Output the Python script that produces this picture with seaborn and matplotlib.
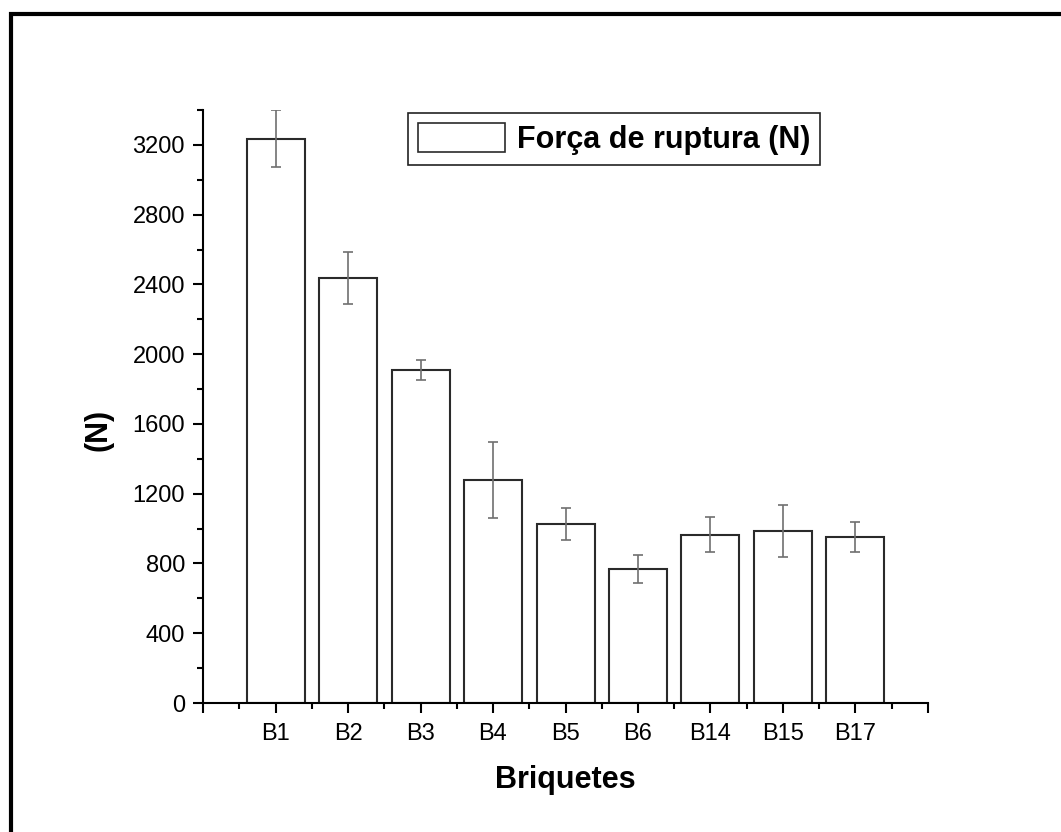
import matplotlib
matplotlib.use("Agg")
import matplotlib.pyplot as plt
import seaborn as sns
import pandas as pd
from matplotlib.patches import Rectangle, Patch
from matplotlib.ticker import MultipleLocator, FixedLocator

categories = ["B1", "B2", "B3", "B4", "B5", "B6", "B14", "B15", "B17"]
force = [3235, 2435, 1910, 1278, 1026, 766, 964, 986, 951]
error = [163, 150, 58, 220, 91, 80, 100, 147, 84]
legend_label = "Força de ruptura (N)"

sns.set_theme(style="ticks")
plt.rcParams["font.family"] = ["Liberation Sans", "DejaVu Sans"]
plt.rcParams["text.color"] = "black"
plt.rcParams["axes.labelcolor"] = "black"
plt.rcParams["xtick.color"] = "black"
plt.rcParams["ytick.color"] = "black"

fig = plt.figure(figsize=(10.61, 8.32), dpi=100)
ax = fig.add_axes([203/1061, 1-703/832, 725/1061, 593/832])

df = pd.DataFrame({"cat": categories, "val": force})
sns.barplot(data=df, x="cat", y="val", order=categories, color="white",
            edgecolor="#2a2a2a", linewidth=1.5, width=0.8, errorbar=None, ax=ax,
            saturation=1)
for p in ax.patches:
    p.set_facecolor("white")

ax.errorbar(range(len(categories)), force, yerr=error, fmt="none",
            ecolor="#707070", elinewidth=1.2, capsize=3.6, capthick=1.2, zorder=5)

ax.set_xlim(-1, 9)
ax.set_ylim(0, 3400)
ax.xaxis.set_major_locator(FixedLocator(range(-1, 10)))
ax.set_xticklabels([""] + categories + [""])
ax.xaxis.set_minor_locator(FixedLocator([i + 0.5 for i in range(-1, 9)]))
ax.yaxis.set_major_locator(MultipleLocator(400))
ax.yaxis.set_minor_locator(MultipleLocator(200))

for s in ["top", "right"]:
    ax.spines[s].set_visible(False)
for s in ["left", "bottom"]:
    ax.spines[s].set_linewidth(1.5)
    ax.spines[s].set_color("black")

ax.tick_params(axis="both", which="major", length=7.5, width=1.5, direction="out",
               labelsize=17, colors="black", labelcolor="black")
ax.tick_params(axis="y", which="major", pad=5.5)
ax.tick_params(axis="x", which="major", pad=7)
ax.tick_params(axis="both", which="minor", length=4, width=1.5, direction="out", colors="black")

ax.set_xlabel("Briquetes", fontsize=22, fontweight="bold", color="black")
ax.set_ylabel("(N)", fontsize=22, fontweight="bold", color="black")
ax.xaxis.set_label_coords(0.5, -0.105)
ax.yaxis.set_label_coords(-0.124, 0.46)

handle = Patch(facecolor="white", edgecolor="#2a2a2a", linewidth=1.2)
leg = ax.legend(handles=[handle], labels=[legend_label], loc="upper right",
                bbox_to_anchor=(0.851, 0.995), borderaxespad=0, fancybox=False,
                prop={"weight": "bold", "size": 22}, handlelength=2.85, handleheight=1.1,
                handletextpad=0.4, borderpad=0.32, framealpha=1, labelcolor="black")
leg.get_frame().set_edgecolor("#222222")
leg.get_frame().set_linewidth(1.2)

frame = Rectangle((11/1061, -0.5), 1.5, (1 - 14/832) + 0.5, transform=fig.transFigure,
                  fill=False, edgecolor="black", linewidth=3, clip_on=False)
fig.patches.append(frame)

fig.savefig("out.png", dpi=100, facecolor="white")
